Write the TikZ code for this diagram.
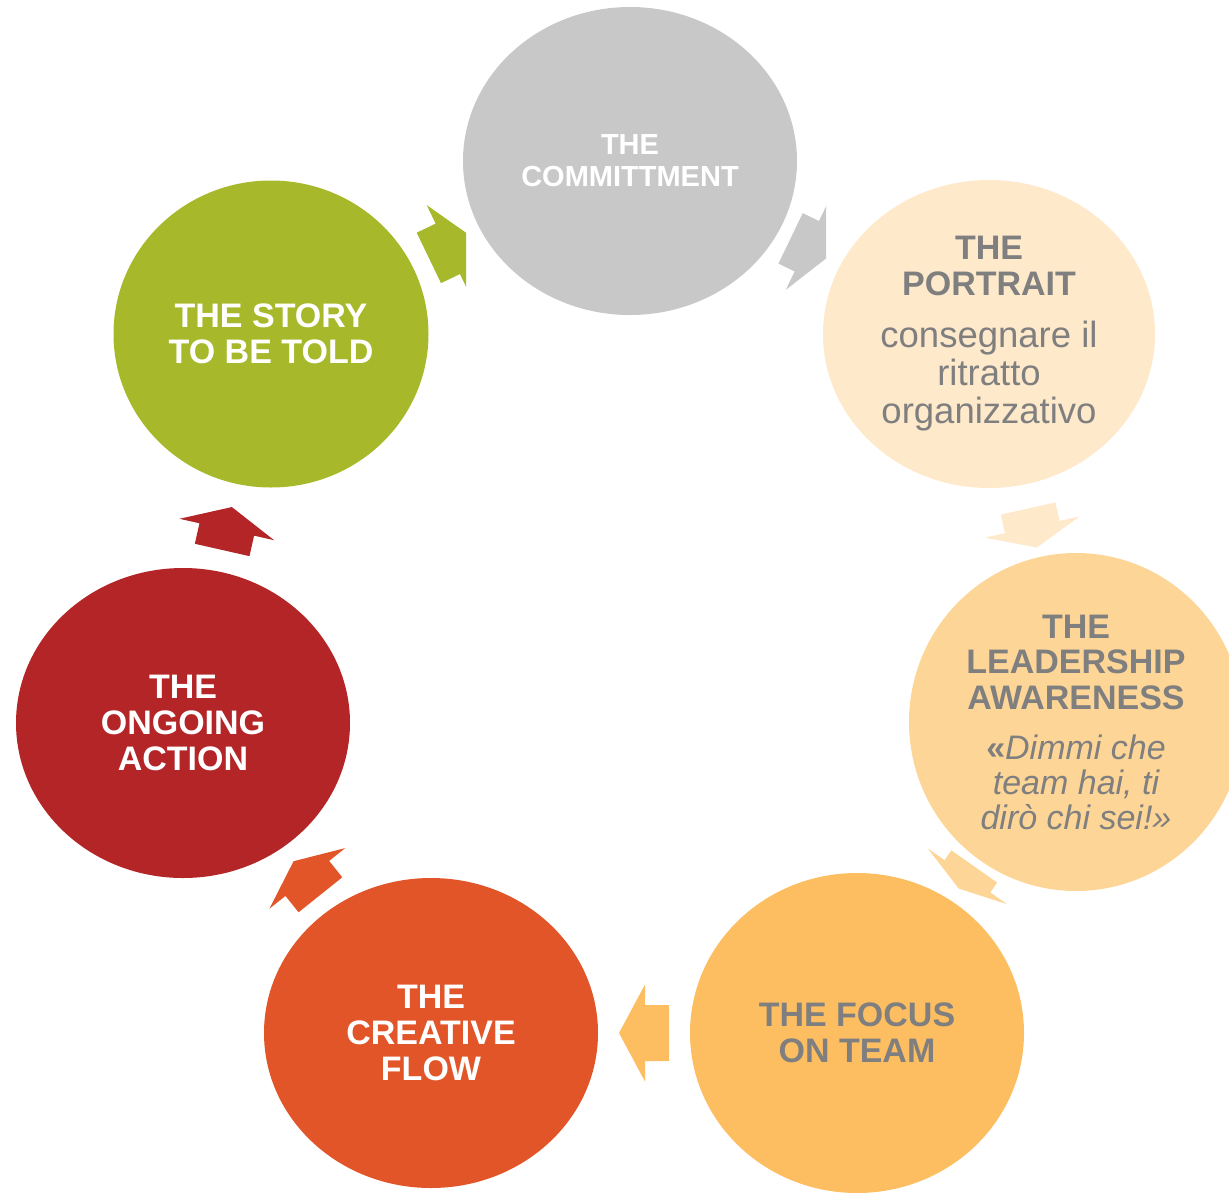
\documentclass[tikz,border=0pt]{standalone}
\usepackage{fontspec}
\setmainfont{Liberation Sans}
\usetikzlibrary{shapes.geometric,calc}

\definecolor{grigio}{HTML}{C8C8C8}
\definecolor{crema}{HTML}{FEE9CB}
\definecolor{pesca}{HTML}{FDD597}
\definecolor{arancio}{HTML}{FDBE62}
\definecolor{mattone}{HTML}{E15529}
\definecolor{rosso}{HTML}{B42528}
\definecolor{verde}{HTML}{A7B92A}
\definecolor{testo}{HTML}{7F7F7F}

% testo centrato dentro un cerchio
\newcommand{\circtext}[2][230pt]{\parbox[c]{#1}{\centering #2}}

% freccia a blocco tra due cerchi: da, a, colore, mezza lunghezza, lunghezza fusto
\newcommand{\cyclearrow}[5]{%
  \coordinate (m) at ($(#1.center)!0.5!(#2.center)$);
  \coordinate (t) at ($(m)!#4!(#1.center)$);
  \coordinate (p) at ($(m)!#4!(#2.center)$);
  \coordinate (n) at ($(t)!#5!(#2.center)$);
  \fill[#3] ($(t)!28pt!90:(#2.center)$) -- ($(n)!28pt!90:(#2.center)$)
    -- ($(n)!48.5pt!90:(#2.center)$) -- (p)
    -- ($(n)!48.5pt!-90:(#2.center)$) -- ($(n)!28pt!-90:(#2.center)$)
    -- ($(t)!28pt!-90:(#2.center)$) -- cycle;
}

\begin{document}
\begin{tikzpicture}[x=1pt, y=-1pt,
    cerchio/.style={ellipse, inner sep=0pt, outer sep=0pt},
    chiaro/.style={text=white},
    scuro/.style={text=testo},
    titolo/.style={font=\fontsize{34}{36}\selectfont\bfseries}]
    \useasboundingbox (0,0) rectangle (1229,1192);

    % Cerchi del ciclo
    \node[cerchio, fill=grigio, chiaro, minimum width=334pt, minimum height=308pt] (commit) at (630,161)
        {\circtext{\fontsize{29}{31.7}\selectfont\bfseries THE\\COMMITTMENT}};
    \node[cerchio, fill=crema, scuro, minimum width=332pt, minimum height=308pt] (portrait) at (989,334)
        {\circtext{{\fontsize{34}{36}\selectfont\bfseries THE\\PORTRAIT\par}\vspace{14pt}%
         {\fontsize{36.5}{38}\selectfont consegnare il\\ritratto\\organizzativo\par}}};
    \node[cerchio, fill=pesca, scuro, minimum width=334pt, minimum height=338pt] (leader) at (1076,722)
        {\circtext{{\fontsize{34}{35.5}\selectfont\bfseries THE\\LEADERSHIP\\AWARENESS\par}\vspace{15pt}%
         {\fontsize{34}{35}\selectfont{\bfseries «}\textit{Dimmi che\\team hai, ti\\dirò chi sei!»}\par}}};
    \node[cerchio, fill=arancio, scuro, titolo, minimum width=334pt, minimum height=320pt] (focus) at (857,1033)
        {\circtext{THE FOCUS\\ON TEAM}};
    \node[cerchio, fill=mattone, chiaro, titolo, minimum width=334pt, minimum height=310pt] (creative) at (431,1033)
        {\circtext{THE\\CREATIVE\\FLOW}};
    \node[cerchio, fill=rosso, chiaro, titolo, minimum width=334pt, minimum height=310pt] (ongoing) at (183,723)
        {\circtext{THE\\ONGOING\\ACTION}};
    \node[cerchio, fill=verde, chiaro, titolo, minimum width=315pt, minimum height=307pt] (story) at (271,334)
        {\circtext[215pt]{THE STORY\\TO BE TOLD}};

    % Frecce tra i cerchi
    \begin{scope}
        \clip (0,0) rectangle (466,1192); % punta tagliata
        \cyclearrow{story}{commit}{verde}{24pt}{21pt}
    \end{scope}
    \begin{scope}
        \clip (0,0) rectangle (826,1192); % punta tagliata
        \cyclearrow{commit}{portrait}{grigio}{21pt}{18pt}
    \end{scope}
    \cyclearrow{portrait}{leader}{crema}{20pt}{19pt}
    \cyclearrow{leader}{focus}{pesca}{13.5pt}{12pt}
    \cyclearrow{focus}{creative}{arancio}{25pt}{24pt}
    \cyclearrow{creative}{ongoing}{mattone}{21.5pt}{21pt}
    \cyclearrow{ongoing}{story}{rosso}{22pt}{21pt}
\end{tikzpicture}
\end{document}
